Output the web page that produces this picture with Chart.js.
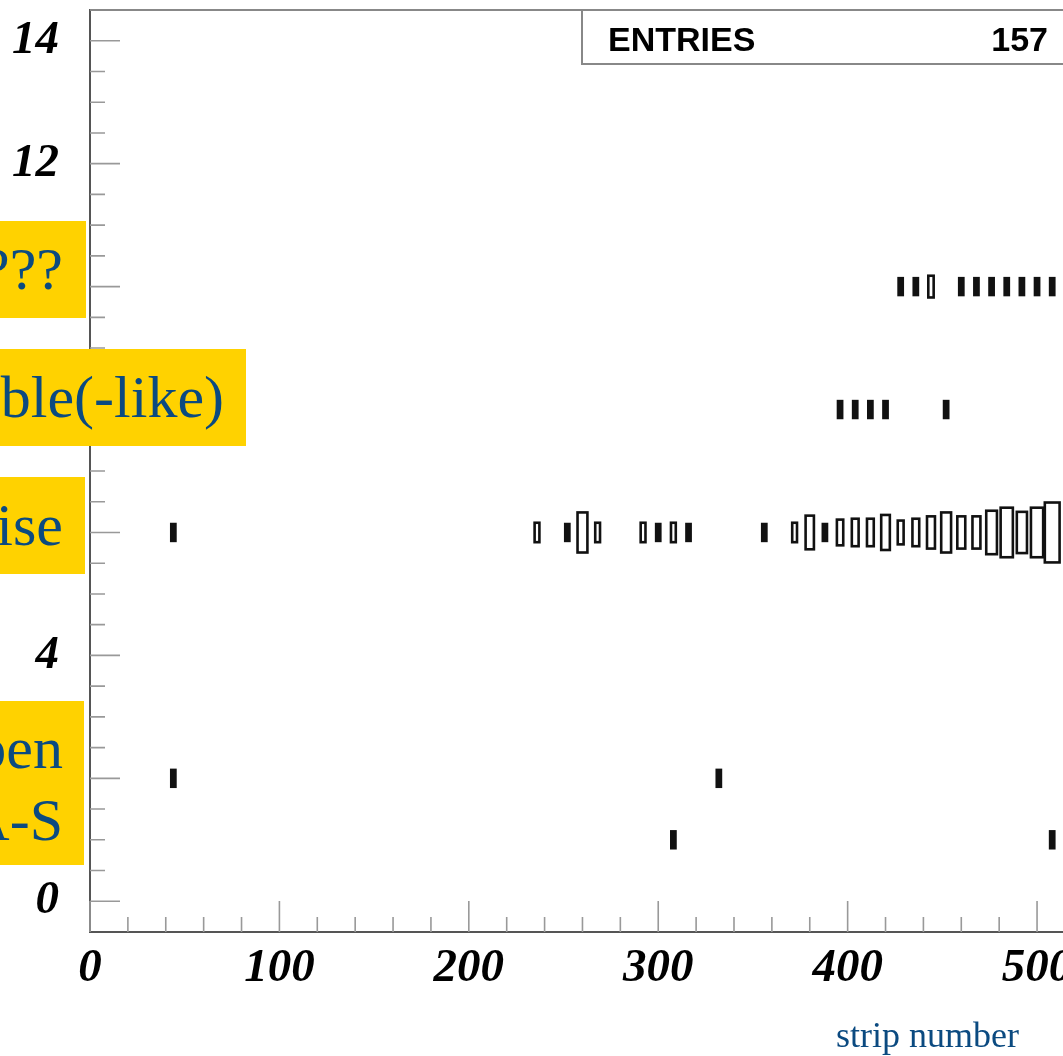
<!DOCTYPE html>
<html>
<head>
<meta charset="utf-8">
<script src="https://cdn.jsdelivr.net/npm/chart.js@4.4.0/dist/chart.umd.min.js"></script>
<style>
  html, body { margin: 0; padding: 0; background: #fff; }
  #c { display: block; }
</style>
</head>
<body>
<canvas id="c" width="1063" height="1056"></canvas>
<script>
// 2D box histogram: strip number (8 strips per bin) vs. error code
const stripsPerBin = 8;
const zMax = 40; // content of the fullest cell

// code 10 ("???")
const unknownBins   = [428, 436, 444, 460, 468, 476, 484, 492, 500, 508, 516];
const unknownCounts = [3, 3, 5, 3, 3, 3, 3, 3, 3, 3, 3];
// code 8 (double-like)
const doubleBins   = [396, 404, 412, 420, 452];
const doubleCounts = [3, 3, 3, 3, 3];
// code 6 (noise)
const noiseBins   = [44, 236, 252, 260, 268, 292, 300, 308, 316, 356, 372, 380, 388, 396,
                     404, 412, 420, 428, 436, 444, 452, 460, 468, 476, 484, 492, 500, 508];
const noiseCounts = [3, 4, 3, 17, 4, 4, 3, 4, 3, 3, 4, 12, 3, 7,
                     8, 8, 13, 6, 8, 11, 17, 11, 11, 20, 26, 18, 26, 38];
// code 2 and code 1 (open / short)
const openBins   = [44, 332];
const openCounts = [3, 3];
const shortBins   = [308, 508];
const shortCounts = [3, 3];

const xTickLabels = ['0', '100', '200', '300', '400', '500'];
const yTickLabels = ['0', '2', '4', '6', '8', '10', '12', '14'];
const noteTexts = [['???'], ['ble(-like)'], ['ise'], ['pen', 'A-S']];
const entries = 157;
const xTitle = 'strip number';

const blue = '#0b4a80';
const yellow = '#ffd200';

function row(bins, counts, level) {
  return bins.map((b, i) => ({ x: b, y: level, v: counts[i] }));
}

// tick positions: majors carry labels, minors in between
const xTicks = [];
for (let v = 0; v <= 500; v += 20) xTicks.push(v);
const yTicks = [];
for (let v = 0; v <= 14; v += 0.5) yTicks.push(v);

const tickFont = { family: "'Liberation Serif', 'DejaVu Serif', serif", size: 47, style: 'italic', weight: 'bold' };

// boxes: side proportional to sqrt(content / zMax), like ROOT's BOX option
const boxPlugin = {
  id: 'boxes',
  afterDatasetsDraw(chart) {
    const ctx = chart.ctx;
    const xs = chart.scales.x, ys = chart.scales.y;
    const edge = 2.6;
    ctx.save();
    chart.data.datasets.forEach((ds, di) => {
      const meta = chart.getDatasetMeta(di);
      ds.data.forEach((d, i) => {
        const r = Math.sqrt(d.v / zMax);
        const w = Math.abs(xs.getPixelForValue(d.x + stripsPerBin / 2 * r) - xs.getPixelForValue(d.x - stripsPerBin / 2 * r)) + edge;
        const h = Math.abs(ys.getPixelForValue(d.y + 0.5 * r) - ys.getPixelForValue(d.y - 0.5 * r)) + edge;
        const el = meta.data[i];
        ctx.fillStyle = '#111';
        ctx.fillRect(el.x - w / 2, el.y - h / 2, w, h);
        const iw = w - 2 * edge, ih = h - 2 * edge;
        if (iw >= 2) {
          ctx.fillStyle = '#fff';
          ctx.fillRect(el.x - iw / 2, el.y - ih / 2, iw, ih);
        }
      });
    });
    ctx.restore();
  }
};

// inward tick marks + top frame line
const framePlugin = {
  id: 'frame',
  beforeDatasetsDraw(chart) {
    const ctx = chart.ctx;
    const a = chart.chartArea;
    const xs = chart.scales.x, ys = chart.scales.y;
    ctx.save();
    ctx.strokeStyle = '#999';
    ctx.lineWidth = 1.6;
    ctx.beginPath();
    xs.ticks.forEach(t => {
      const px = xs.getPixelForValue(t.value);
      const len = t.value % 100 === 0 ? 31 : 15;
      ctx.moveTo(px, a.bottom);
      ctx.lineTo(px, a.bottom - len);
    });
    ys.ticks.forEach(t => {
      const py = ys.getPixelForValue(t.value);
      const len = t.value % 2 === 0 ? 30 : 15;
      ctx.moveTo(a.left, py);
      ctx.lineTo(a.left + len, py);
    });
    ctx.stroke();
    ctx.strokeStyle = '#888';
    ctx.lineWidth = 2;
    ctx.beginPath();
    ctx.moveTo(a.left, a.top);
    ctx.lineTo(a.right, a.top);
    ctx.stroke();
    ctx.restore();
  },
  afterDraw(chart) {
    const ctx = chart.ctx;
    ctx.save();
    // stats box
    ctx.fillStyle = '#fff';
    ctx.fillRect(582, 10, 490, 54);
    ctx.strokeStyle = '#888';
    ctx.lineWidth = 2;
    ctx.strokeRect(582, 10, 490, 54);
    ctx.fillStyle = '#000';
    ctx.font = "bold 34px 'Liberation Sans', Arial, sans-serif";
    ctx.textBaseline = 'alphabetic';
    ctx.textAlign = 'left';
    ctx.fillText('ENTRIES', 608, 51);
    ctx.textAlign = 'right';
    ctx.fillText(String(entries), 1048, 51);

    // axis title
    ctx.fillStyle = blue;
    ctx.font = "36px 'Liberation Serif', 'DejaVu Serif', serif";
    ctx.textAlign = 'left';
    ctx.fillText(xTitle, 836, 1047);

    // yellow notes
    const boxes = [
      { x: 0, y: 221, w: 86, h: 97, right: 63, base: [289] },
      { x: 0, y: 349, w: 246, h: 97, right: 224, base: [417] },
      { x: 0, y: 477, w: 85, h: 97, right: 63, base: [545] },
      { x: 0, y: 701, w: 84, h: 164, right: 63, base: [768, 840] }
    ];
    ctx.font = "60px 'Liberation Serif', 'DejaVu Serif', serif";
    ctx.textAlign = 'right';
    boxes.forEach((b, i) => {
      ctx.fillStyle = yellow;
      ctx.fillRect(b.x, b.y, b.w, b.h);
      ctx.fillStyle = blue;
      noteTexts[i].forEach((t, k) => ctx.fillText(t, b.right, b.base[k]));
    });
    ctx.restore();
  }
};

new Chart(document.getElementById('c'), {
  type: 'scatter',
  data: {
    datasets: [
      { data: row(unknownBins, unknownCounts, 10) },
      { data: row(doubleBins, doubleCounts, 8) },
      { data: row(noiseBins, noiseCounts, 6) },
      { data: row(openBins, openCounts, 2) },
      { data: row(shortBins, shortCounts, 1) }
    ]
  },
  options: {
    responsive: false,
    animation: false,
    devicePixelRatio: 1,
    events: [],
    layout: { padding: { top: 10, right: 0, left: 0, bottom: 0 } },
    elements: { point: { radius: 0, hoverRadius: 0 } },
    plugins: { legend: { display: false }, tooltip: { enabled: false } },
    scales: {
      x: {
        type: 'linear',
        min: 0,
        max: 513.7,
        afterBuildTicks: s => { s.ticks = xTicks.map(v => ({ value: v })); },
        afterFit: s => { s.height = 124; s.paddingLeft = 0; s.paddingRight = 0; },
        ticks: {
          autoSkip: false, maxRotation: 0, minRotation: 0, padding: 9,
          color: '#000', font: tickFont,
          callback: v => (v % 100 === 0 ? xTickLabels[v / 100] : '')
        },
        grid: { drawOnChartArea: false, drawTicks: false },
        border: { color: '#555', width: 2 }
      },
      y: {
        type: 'linear',
        min: -0.5,
        max: 14.5,
        afterBuildTicks: s => { s.ticks = yTicks.map(v => ({ value: v })); },
        afterFit: s => { s.width = 90; s.paddingTop = 0; s.paddingBottom = 0; },
        ticks: {
          autoSkip: false, padding: 31,
          color: '#000', font: tickFont,
          callback: v => (v % 2 === 0 ? yTickLabels[v / 2] : '')
        },
        grid: { drawOnChartArea: false, drawTicks: false },
        border: { color: '#555', width: 2 }
      }
    }
  },
  plugins: [boxPlugin, framePlugin]
});
</script>
</body>
</html>
